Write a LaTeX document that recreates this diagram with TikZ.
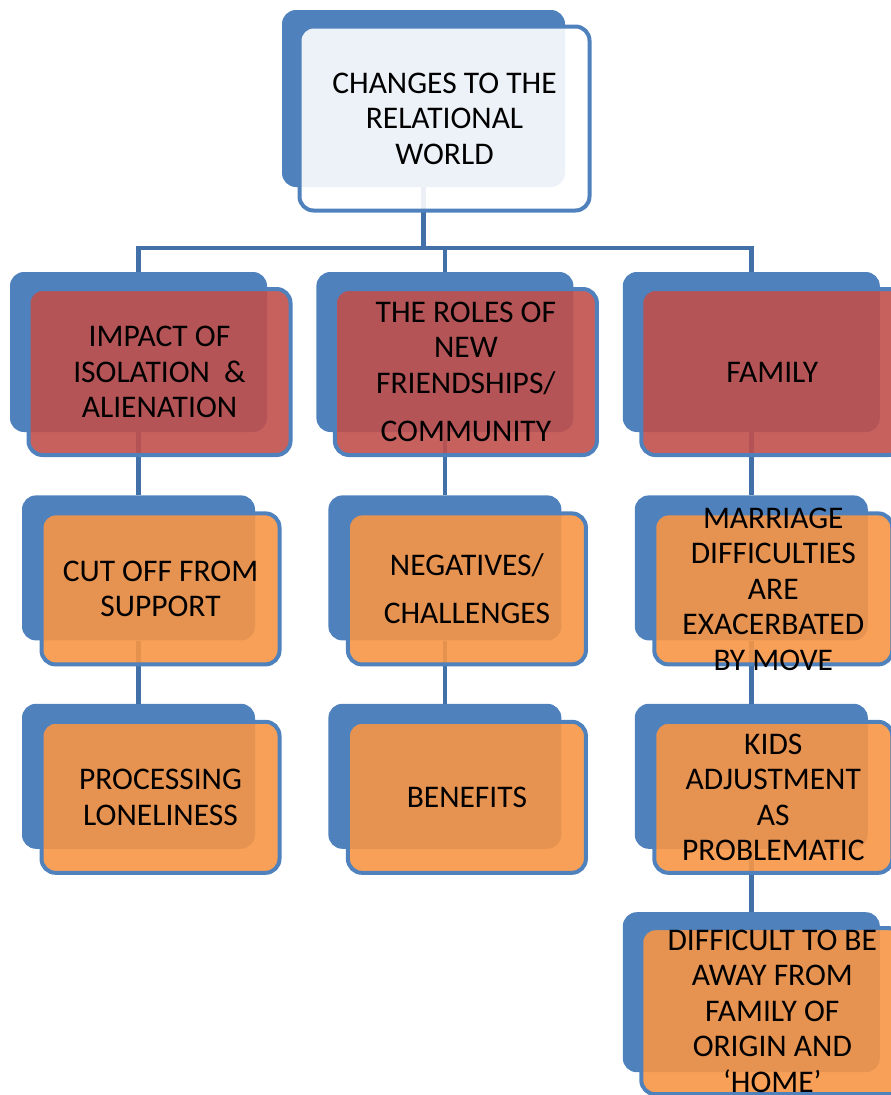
\documentclass[tikz,border=0pt]{standalone}
\usepackage{fontspec}
\setmainfont{Carlito}
\usepackage{tikz}
\usetikzlibrary{positioning}
\definecolor{backblue}{RGB}{79,129,189}
\definecolor{linkblue}{RGB}{66,112,168}
\definecolor{redfill}{RGB}{192,80,77}
\definecolor{orangefill}{RGB}{247,150,70}

\begin{document}
\begin{tikzpicture}[
  x=1pt, y=-1pt,
  node distance=63pt and 49pt,
  back/.style={rectangle, rounded corners=14pt, fill=backblue, inner sep=0pt},
  front/.style={rectangle, rounded corners=14pt, draw=backblue, line width=4pt, fill opacity=0.9, inner sep=0pt},
  topsz/.style={minimum width=283pt, minimum height=177pt},
  bigsz/.style={minimum width=257pt, minimum height=160pt},
  smallsz/.style={minimum width=233pt, minimum height=145pt},
  topfr/.style={minimum width=290pt, minimum height=184pt},
  bigfr/.style={minimum width=262pt, minimum height=166pt},
  smallfr/.style={minimum width=238pt, minimum height=151pt},
  link/.style={draw=linkblue, line width=4.5pt},
  txt/.style={align=center, inner sep=0pt, font=\fontsize{31.5}{35.5}\selectfont}
]
\useasboundingbox (0,0) rectangle (891,1095);
\clip (0,0) rectangle (891,1095);

% back plates
\node[back, topsz] (chg-b) at (423.5,98.5) {};
\node[back, bigsz] (isol-b) at (138.5,352) {};
\node[back, bigsz, right=of isol-b] (roles-b) {};
\node[back, bigsz, right=of roles-b] (fam-b) {};
\node[back, smallsz, below=of isol-b] (cut-b) {};
\node[back, smallsz, below=of cut-b] (proc-b) {};
\node[back, smallsz, below=of roles-b] (neg-b) {};
\node[back, smallsz, below=of neg-b] (ben-b) {};
\node[back, smallsz, below=of fam-b] (marr-b) {};
\node[back, smallsz, below=of marr-b] (kids-b) {};
\node[back, bigsz, below=of kids-b] (away-b) {};

% connectors
\coordinate (bus) at (423.5,248);
\draw[link] (chg-b.south) -- (bus);
\draw[link] (isol-b.north) |- (bus) -| (roles-b.north);
\draw[link] (bus) -| (fam-b.north);
\draw[link] (isol-b.south) -- (cut-b.north);
\draw[link] (cut-b.south) -- (proc-b.north);
\draw[link] (roles-b.south) -- (neg-b.north);
\draw[link] (neg-b.south) -- (ben-b.north);
\draw[link] (fam-b.south) -- (marr-b.north);
\draw[link] (marr-b.south) -- (kids-b.north);
\draw[link] (kids-b.south) -- (away-b.north);

% front plates
\node[front, fill=white, topfr] (chg) at ([shift={(21,20)}]chg-b.center) {};
\node[front, fill=redfill, bigfr] (isol) at ([shift={(21,20)}]isol-b.center) {};
\node[front, fill=redfill, bigfr] (roles) at ([shift={(21,20)}]roles-b.center) {};
\node[front, fill=redfill, bigfr] (fam) at ([shift={(21,20)}]fam-b.center) {};
\node[front, fill=orangefill, smallfr] (cut) at ([shift={(22,21)}]cut-b.center) {};
\node[front, fill=orangefill, smallfr] (proc) at ([shift={(22,21)}]proc-b.center) {};
\node[front, fill=orangefill, smallfr] (neg) at ([shift={(22,21)}]neg-b.center) {};
\node[front, fill=orangefill, smallfr] (ben) at ([shift={(22,21)}]ben-b.center) {};
\node[front, fill=orangefill, smallfr] (marr) at ([shift={(22,21)}]marr-b.center) {};
\node[front, fill=orangefill, smallfr] (kids) at ([shift={(22,21)}]kids-b.center) {};
\node[front, fill=orangefill, bigfr] (away) at ([shift={(21,19)}]away-b.center) {};

% labels
\node[txt] (chg-t) at (chg) {CHANGES TO THE\\RELATIONAL\\WORLD};
\node[txt] (isol-t) at (isol) {IMPACT OF\\ISOLATION \ \&\\ALIENATION};
\node[txt] (roles-t) at (roles) {THE ROLES OF\\NEW\\FRIENDSHIPS/\\[13pt]COMMUNITY};
\node[txt] (fam-t) at (fam) {FAMILY};
\node[txt] (cut-t) at (cut) {CUT OFF FROM\\SUPPORT};
\node[txt] (proc-t) at (proc) {PROCESSING\\LONELINESS};
\node[txt] (neg-t) at (neg) {NEGATIVES/\\[13pt]CHALLENGES};
\node[txt] (ben-t) at (ben) {BENEFITS};
\node[txt] (marr-t) at (marr) {MARRIAGE\\DIFFICULTIES\\ARE\\EXACERBATED\\BY MOVE};
\node[txt] (kids-t) at (kids) {KIDS\\ADJUSTMENT\\AS\\PROBLEMATIC};
\node[txt] (away-t) at (away) {DIFFICULT TO BE\\AWAY FROM\\FAMILY OF\\ORIGIN AND\\‘HOME’};
\end{tikzpicture}
\end{document}
